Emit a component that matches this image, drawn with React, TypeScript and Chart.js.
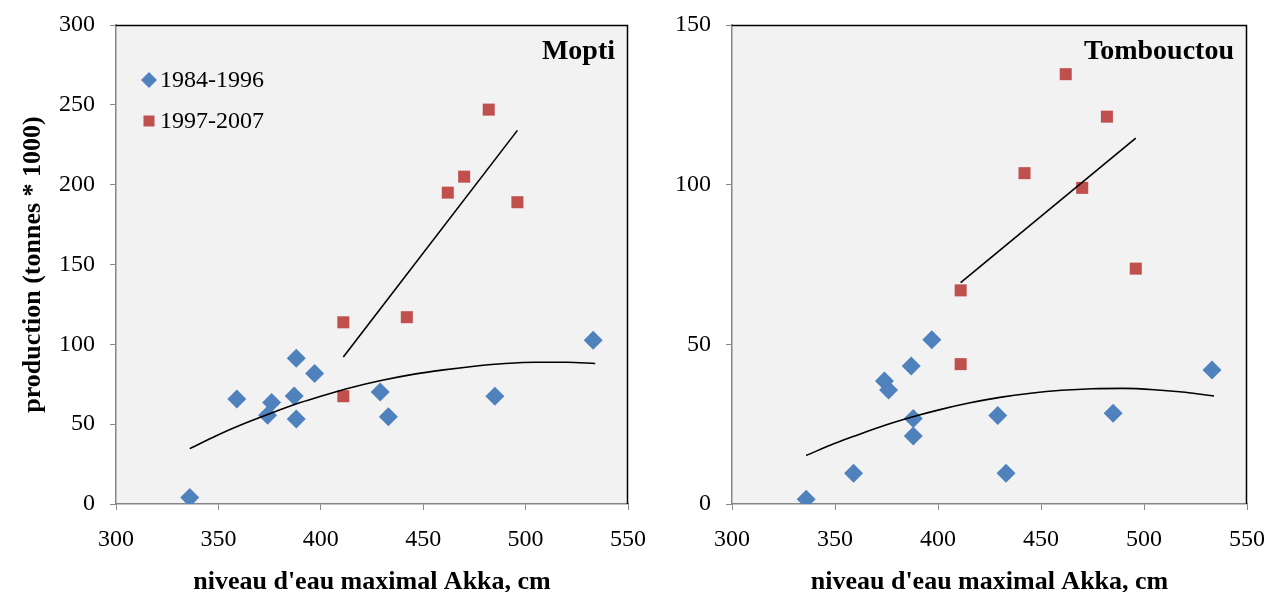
import React, { useEffect, useRef } from 'react';
import { Chart, registerables } from 'chart.js';

Chart.register(...registerables);

// ---- data ----
const seriesLabels = ['1984-1996', '1997-2007'];
const panelTitles = ['Mopti', 'Tombouctou'];
const xAxisTitle = "niveau d'eau maximal Akka, cm";
const yAxisTitle = 'production (tonnes * 1000)';
const xTicks = [300, 350, 400, 450, 500, 550];
const moptiYTicks = [0, 50, 100, 150, 200, 250, 300];
const tombYTicks = [0, 50, 100, 150];

// maximal water level at Akka (cm), period 1984-1996
const earlyLevels = [336, 359, 374, 376, 388, 387, 388, 397, 429, 433, 485, 533];
// maximal water level at Akka (cm), period 1997-2007
const lateLevels = [411, 411, 442, 462, 470, 482, 496];

const moptiEarly = [4, 65.8, 55.6, 63.5, 91.3, 67.7, 53.3, 81.7, 70.2, 54.6, 67.5, 102.5];
const moptiLate = [113.8, 67.5, 117, 195, 205, 247, 189];
const tombEarly = [1.5, 9.6, 38.5, 35.7, 26.8, 43.2, 21.3, 51.4, 27.7, 9.6, 28.4, 42];
const tombLate = [66.9, 43.8, 103.6, 134.6, 99, 121.3, 73.7];

// trend lines
const earlyTrendX = [336, 350, 360, 375, 390, 400, 415, 430, 445, 460, 475, 490, 505, 520, 534];
const moptiEarlyTrend = [34.7, 43.4, 49, 56.5, 63.5, 67.5, 73, 77.5, 81.2, 84, 86.3, 88, 88.8, 88.8, 88];
const tombEarlyTrend = [15.2, 19, 21.4, 24.8, 27.7, 29.4, 31.6, 33.4, 34.7, 35.6, 36.1, 36.2, 35.8, 35, 33.8];
const lateTrendX = [411, 496];
const moptiLateTrend = [92, 234];
const tombLateTrend = [69.3, 114.6];

const BLUE = '#4f81bd';
const RED = '#c0504d';
const AXIS = '#868686';
const FONT = "'Liberation Serif', 'Times New Roman', serif";

type PanelProps = {
  title: string;
  yTicks: number[];
  early: number[];
  late: number[];
  earlyTrend: number[];
  lateTrend: number[];
  showLegend: boolean;
  width: number;
  yWidth: number;
  padRight: number;
  showYTitle: boolean;
  left: number;
};

function pts(xs: number[], ys: number[]) {
  return xs.map((x, i) => ({ x, y: ys[i] }));
}

function Panel(props: PanelProps) {
  const ref = useRef<HTMLCanvasElement | null>(null);
  useEffect(() => {
    const canvas = ref.current;
    if (!canvas) return;
    const yMax = props.yTicks[props.yTicks.length - 1];
    const step = props.yTicks[1] - props.yTicks[0];

    const panelPlugin = {
      id: 'panelDeco',
      beforeDraw(chart: any) {
        const { ctx, chartArea: a } = chart;
        ctx.save();
        ctx.fillStyle = '#f2f2f2';
        ctx.fillRect(a.left, a.top, a.right - a.left, a.bottom - a.top);
        ctx.restore();
      },
      beforeDatasetsDraw(chart: any) {
        const { ctx, chartArea: a } = chart;
        ctx.save();
        ctx.strokeStyle = '#000';
        ctx.lineWidth = 1.5;
        ctx.beginPath();
        ctx.moveTo(a.left, a.top + 0.5);
        ctx.lineTo(a.right - 0.5, a.top + 0.5);
        ctx.lineTo(a.right - 0.5, a.bottom);
        ctx.stroke();
        ctx.restore();
      },
      afterDraw(chart: any) {
        const { ctx, chartArea: a } = chart;
        ctx.save();
        ctx.fillStyle = '#000';
        ctx.font = `bold 28px ${FONT}`;
        ctx.textAlign = 'right';
        ctx.textBaseline = 'middle';
        ctx.fillText(props.title, a.right - 13, a.top + 27);
        if (props.showLegend) {
          ctx.font = `24px ${FONT}`;
          ctx.textAlign = 'left';
          const lx = a.left + 33;
          const rows = [a.top + 55, a.top + 96];
          // diamond
          ctx.fillStyle = BLUE;
          ctx.beginPath();
          ctx.moveTo(lx - 8, rows[0]);
          ctx.lineTo(lx, rows[0] - 8);
          ctx.lineTo(lx + 8, rows[0]);
          ctx.lineTo(lx, rows[0] + 8);
          ctx.closePath();
          ctx.fill();
          // square
          ctx.fillStyle = RED;
          ctx.fillRect(lx - 5.5, rows[1] - 5.5, 11, 11);
          ctx.fillStyle = '#000';
          ctx.fillText(seriesLabels[0], lx + 11, rows[0] + 1);
          ctx.fillText(seriesLabels[1], lx + 11, rows[1] + 1);
        }
        ctx.restore();
      },
    };

    const chart = new Chart(canvas, {
      type: 'scatter',
      data: {
        datasets: [
          {
            label: seriesLabels[0],
            data: pts(earlyLevels, props.early),
            pointStyle: 'rectRot',
            pointRadius: 9.5,
            pointHoverRadius: 9.5,
            backgroundColor: BLUE,
            borderColor: BLUE,
            borderWidth: 0,
            order: 2,
          },
          {
            label: seriesLabels[1],
            data: pts(lateLevels, props.late),
            pointStyle: 'rect',
            pointRadius: 8.5,
            pointHoverRadius: 8.5,
            backgroundColor: RED,
            borderColor: RED,
            borderWidth: 0,
            order: 2,
          },
          {
            label: 'trend ' + seriesLabels[0],
            data: pts(earlyTrendX, props.earlyTrend),
            showLine: true,
            borderColor: '#000',
            borderWidth: 1.6,
            pointRadius: 0,
            pointHoverRadius: 0,
            cubicInterpolationMode: 'monotone',
            fill: false,
            order: 1,
          } as any,
          {
            label: 'trend ' + seriesLabels[1],
            data: pts(lateTrendX, props.lateTrend),
            showLine: true,
            borderColor: '#000',
            borderWidth: 1.6,
            pointRadius: 0,
            pointHoverRadius: 0,
            fill: false,
            order: 1,
          } as any,
        ],
      },
      options: {
        responsive: false,
        animation: false,
        events: [],
        layout: { padding: { top: 25, right: props.padRight, left: 0, bottom: 0 } },
        plugins: { legend: { display: false }, tooltip: { enabled: false } },
        scales: {
          x: {
            type: 'linear',
            min: xTicks[0],
            max: xTicks[xTicks.length - 1],
            afterBuildTicks: (s: any) => {
              s.ticks = xTicks.map((v) => ({ value: v }));
            },
            ticks: { color: '#000', font: { family: FONT, size: 24 }, padding: 15, maxRotation: 0 },
            grid: { drawOnChartArea: false, color: AXIS, tickLength: 6, lineWidth: 1 },
            border: { color: AXIS, width: 1.5 },
            title: {
              display: true,
              text: xAxisTitle,
              color: '#000',
              font: { family: FONT, size: 26, weight: 'bold', lineHeight: 1 },
              padding: { top: 0, bottom: -3 },
            },
            afterFit: (s: any) => {
              s.height = 88;
              s.paddingLeft = 0;
              s.paddingRight = 0;
            },
          },
          y: {
            type: 'linear',
            min: 0,
            max: yMax,
            afterBuildTicks: (s: any) => {
              s.ticks = props.yTicks.map((v) => ({ value: v }));
            },
            ticks: { color: '#000', font: { family: FONT, size: 24 }, padding: 15, stepSize: step },
            grid: { drawOnChartArea: false, color: AXIS, tickLength: 6, lineWidth: 1 },
            border: { color: AXIS, width: 1.5 },
            title: {
              display: props.showYTitle,
              text: yAxisTitle,
              color: '#000',
              font: { family: FONT, size: 26, weight: 'bold', lineHeight: 1 },
              padding: { top: 20, bottom: 0 },
            },
            afterFit: (s: any) => {
              s.width = props.yWidth;
              s.paddingTop = 0;
              s.paddingBottom = 0;
            },
          },
        },
      } as any,
      plugins: [panelPlugin],
    });
    return () => chart.destroy();
  }, []);
  return (
    <canvas
      ref={ref}
      width={props.width}
      height={592}
      style={{ display: 'block', position: 'absolute', left: props.left, top: 0 }}
    />
  );
}

export default function App() {
  return (
    <div
      style={{
        position: 'fixed',
        left: 0,
        top: 0,
        width: 1270,
        height: 592,
        background: '#fff',
        overflow: 'hidden',
      }}
    >
      <Panel
        title={panelTitles[0]}
        yTicks={moptiYTicks}
        early={moptiEarly}
        late={moptiLate}
        earlyTrend={moptiEarlyTrend}
        lateTrend={moptiLateTrend}
        showLegend={true}
        width={670}
        yWidth={116}
        padRight={42}
        showYTitle={true}
        left={0}
      />
      <Panel
        title={panelTitles[1]}
        yTicks={tombYTicks}
        early={tombEarly}
        late={tombLate}
        earlyTrend={tombEarlyTrend}
        lateTrend={tombLateTrend}
        showLegend={false}
        width={630}
        yWidth={92}
        padRight={23}
        showYTitle={false}
        left={640}
      />
    </div>
  );
}
